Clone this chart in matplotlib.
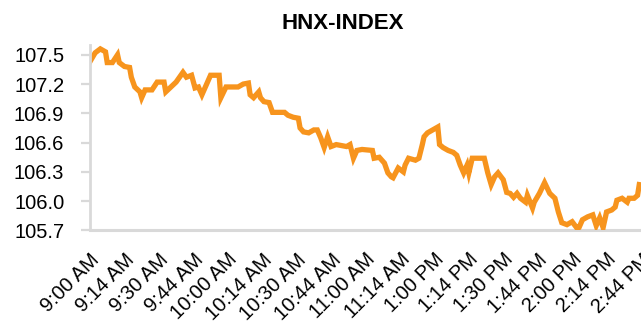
import matplotlib
matplotlib.use("Agg")
import matplotlib.pyplot as plt

# -----------------------------
# data
# -----------------------------
# observation number along the category axis (20 observations per label)
obs = [0, 3, 6, 9, 10, 13, 16, 17, 20, 23, 24, 26, 29, 30, 32, 36, 39, 43, 44, 47,
       50, 54, 56, 59, 61, 63, 65, 68, 70, 75, 76, 79,
       86, 89, 92, 93, 95, 98, 99, 101, 104, 106, 113, 115, 118, 121, 122, 124, 127, 130,
       132, 134, 136, 138, 140, 143, 149, 151, 153, 155, 158,
       164, 165, 168, 171, 173, 175, 176, 179, 182, 183, 185, 189, 191, 193, 194, 196, 199,
       202, 203, 205, 208, 211, 213, 215, 217, 219, 220, 222, 229, 231, 233,
       235, 237, 240, 242, 244, 246, 248, 250, 253, 254, 257, 258, 261, 264, 267, 270, 272,
       274, 277, 280, 283, 284, 286, 289, 292, 294, 296, 298, 300, 303, 305, 306, 309, 312,
       313, 316, 318, 319]

hnx = [107.43, 107.52, 107.56, 107.53, 107.42, 107.42, 107.50, 107.42, 107.38, 107.37,
       107.27, 107.17, 107.12, 107.06, 107.14, 107.14, 107.22, 107.22, 107.12, 107.17,
       107.22, 107.32, 107.27, 107.29, 107.16, 107.17, 107.09, 107.21, 107.29, 107.29,
       107.06, 107.17,
       107.17, 107.20, 107.21, 107.09, 107.06, 107.12, 107.06, 107.02, 107.01, 106.91,
       106.91, 106.88, 106.86, 106.85, 106.75, 106.71, 106.70, 106.73,
       106.73, 106.65, 106.55, 106.66, 106.56, 106.58, 106.56, 106.58, 106.44, 106.52, 106.53,
       106.52, 106.44, 106.45, 106.39, 106.29, 106.25, 106.24, 106.34, 106.30, 106.37,
       106.44, 106.42, 106.44, 106.58, 106.66, 106.70, 106.73,
       106.76, 106.58, 106.55, 106.52, 106.50, 106.47, 106.37, 106.29, 106.37, 106.29,
       106.44, 106.44, 106.29, 106.17,
       106.25, 106.29, 106.22, 106.09, 106.08, 106.04, 106.08, 106.03, 105.99, 106.06,
       105.93, 105.99, 106.08, 106.19, 106.08, 106.03, 105.89,
       105.78, 105.76, 105.79, 105.72, 105.73, 105.81, 105.84, 105.86, 105.75, 105.83,
       105.73, 105.89, 105.91, 105.94, 106.01, 106.03, 105.99,
       106.03, 106.03, 106.06, 106.17]

time_labels = ["9:00 AM", "9:14 AM", "9:30 AM", "9:44 AM", "10:00 AM", "10:14 AM",
               "10:30 AM", "10:44 AM", "11:00 AM", "11:14 AM", "1:00 PM", "1:14 PM",
               "1:30 PM", "1:44 PM", "2:00 PM", "2:14 PM", "2:44 PM"]
obs_per_label = 20

y_ticks = [105.7, 106.0, 106.3, 106.6, 106.9, 107.2, 107.5]

# -----------------------------
# plot
# -----------------------------
plt.rcParams["font.family"] = ["Liberation Sans", "DejaVu Sans"]

fig = plt.figure(figsize=(6.41, 3.23), dpi=100)
ax = fig.add_axes([0.1404, 0.2864, 0.8596, 0.5743])

ax.plot(obs, hnx, color="#F7941D", linewidth=3.8, solid_joinstyle="miter")

ax.set_xlim(0, 320)
ax.set_ylim(105.7, 107.60)

ax.set_yticks(y_ticks)
ax.set_yticklabels([f"{v:.1f}" for v in y_ticks], fontsize=14.5)

tick_pos = [i * obs_per_label for i in range(len(time_labels))]
ax.set_xticks(tick_pos)
ax.set_xticklabels(time_labels, fontsize=14.5, rotation=45, ha="right", va="top",
                   rotation_mode="anchor")

ax.tick_params(axis="y", length=6.5, width=1.6, color="#D9D9D9", pad=12)
ax.tick_params(axis="x", length=0, pad=14)

for side in ["top", "right"]:
    ax.spines[side].set_visible(False)
ax.spines["left"].set_color("#D9D9D9")
ax.spines["left"].set_linewidth(2.0)
ax.spines["bottom"].set_color("#D9D9D9")
ax.spines["bottom"].set_linewidth(2.2)
ax.spines["bottom"].set_zorder(0)

fig.text(0.534, 0.926, "HNX-INDEX", fontsize=16, fontweight="bold",
         ha="center", va="center")

fig.savefig("out.png", dpi=100)
